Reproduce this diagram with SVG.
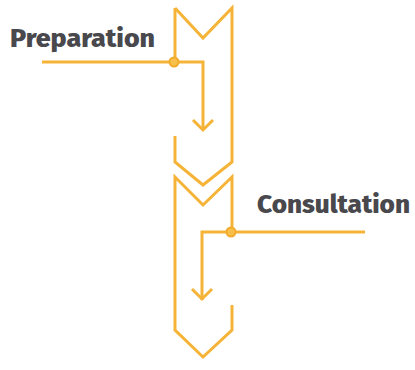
<svg xmlns="http://www.w3.org/2000/svg" width="415" height="370" viewBox="0 0 415 370">
<style>
.ln{fill:none;stroke:#f5b437;stroke-width:3;stroke-linejoin:miter;stroke-linecap:butt}
.dot{fill:#f8c04a;stroke:#f2ab2c;stroke-width:2}
.lbl{font-family:"Fira Sans","Open Sans","Liberation Sans",sans-serif;font-weight:800;fill:#48484d}
</style>
<g id="step1">
<path class="ln" d="M175,8 L203,38 L232,8 L232,162 L203,185 L175,162 L175,136"/>
<path class="ln" d="M175,8 L175,62"/>
</g>
<g id="step2">
<path class="ln" d="M232,305 L232,330 L203,357 L175,330 L175,177 L203,205 L232,177 L232,232"/>
</g>
<g id="preparation">
<text class="lbl" x="10" y="47" font-size="26" textLength="145" lengthAdjust="spacingAndGlyphs">Preparation</text>
</g>
<g id="consultation">
<text class="lbl" x="257" y="213" font-size="26" textLength="153" lengthAdjust="spacingAndGlyphs">Consultation</text>
</g>
<g id="connectors">
<path class="ln" d="M42,62 L203,62 L203,130"/>
<path class="ln" d="M193,120 L203,130 L213,120"/>
<circle class="dot" cx="174" cy="62" r="4.5"/>
<path class="ln" d="M365,232 L202,232 L202,300"/>
<path class="ln" d="M192,289 L202,299 L212,289"/>
<circle class="dot" cx="231" cy="232" r="4.5"/>
</g>
</svg>
